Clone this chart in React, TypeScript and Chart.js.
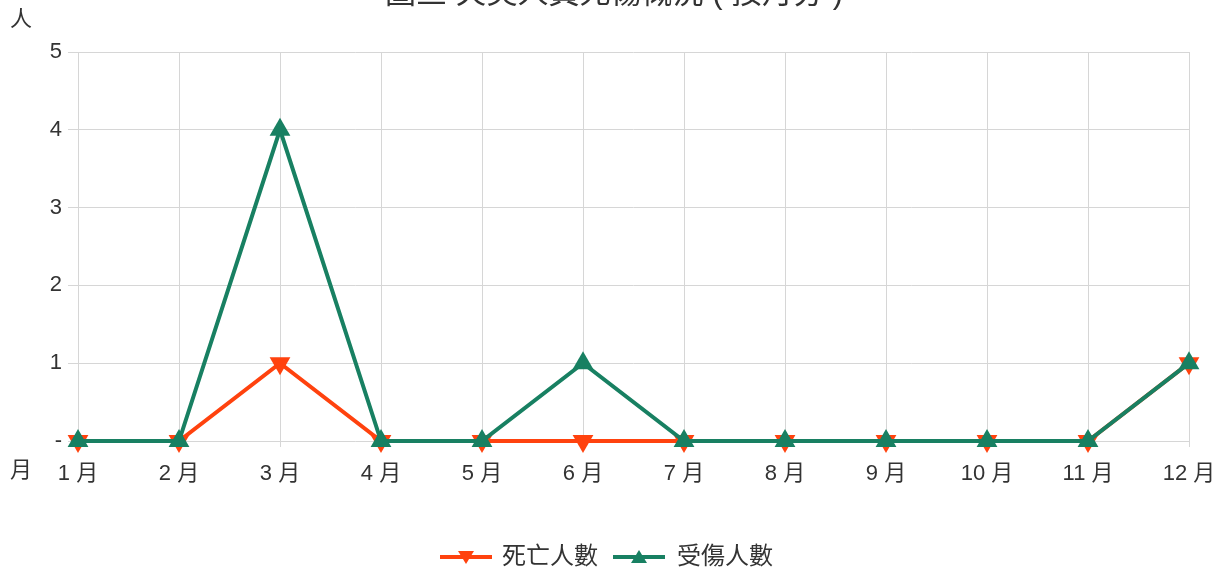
import React, { useEffect, useRef } from "react";
import { Chart, registerables } from "chart.js";

Chart.register(...registerables);

const TITLE = "圖三 火災人員死傷概況 ( 按月分 )";
const Y_TITLE = "人";
const X_TITLE = "月";
const MONTHS = ["1 月", "2 月", "3 月", "4 月", "5 月", "6 月", "7 月", "8 月", "9 月", "10 月", "11 月", "12 月"];
const DEATHS = [0, 0, 1, 0, 0, 0, 0, 0, 0, 0, 0, 1];
const INJURED = [0, 0, 4, 0, 0, 1, 0, 0, 0, 0, 0, 1];
const DEATH_LABEL = "死亡人數";
const INJURED_LABEL = "受傷人數";
const ORANGE = "#ff420e";
const GREEN = "#188062";
const FONT = "'Liberation Sans', 'Noto Sans CJK TC', sans-serif";

function drawLegendIcon(ctx: CanvasRenderingContext2D, x: number, y: number, color: string, down: boolean) {
  ctx.strokeStyle = color;
  ctx.lineWidth = 4;
  ctx.beginPath();
  ctx.moveTo(x, y);
  ctx.lineTo(x + 52, y);
  ctx.stroke();
  ctx.fillStyle = color;
  ctx.beginPath();
  if (down) {
    ctx.moveTo(x + 18, y - 6);
    ctx.lineTo(x + 34, y - 6);
    ctx.lineTo(x + 26, y + 7);
  } else {
    ctx.moveTo(x + 18, y + 6);
    ctx.lineTo(x + 34, y + 6);
    ctx.lineTo(x + 26, y - 7);
  }
  ctx.closePath();
  ctx.fill();
}

export default function App() {
  const ref = useRef<HTMLCanvasElement>(null);
  useEffect(() => {
    const textPlugin = {
      id: "texts",
      afterDraw(chart: any) {
        const ctx = chart.ctx as CanvasRenderingContext2D;
        ctx.save();
        ctx.fillStyle = "#333";
        ctx.textAlign = "center";
        ctx.textBaseline = "middle";
        ctx.font = `31px ${FONT}`;
        ctx.fillText(TITLE, 614, -6);
        ctx.font = `22px ${FONT}`;
        ctx.fillText(Y_TITLE, 21, 20);
        ctx.fillText(X_TITLE, 21, 471);
        // legend
        const ly = 557;
        drawLegendIcon(ctx, 440, ly, ORANGE, true);
        drawLegendIcon(ctx, 613, ly, GREEN, false);
        ctx.fillStyle = "#333";
        ctx.textAlign = "left";
        ctx.font = `24px ${FONT}`;
        ctx.fillText(DEATH_LABEL, 502, ly);
        ctx.fillText(INJURED_LABEL, 677, ly);
        ctx.restore();
      },
    };
    const common = {
      borderWidth: 4,
      pointStyle: "triangle",
      pointRadius: 12,
      pointBorderWidth: 0,
      tension: 0,
      clip: false,
    };
    const chart = new Chart(ref.current!, {
      type: "line",
      data: {
        labels: MONTHS,
        datasets: [
          {
            ...common,
            label: INJURED_LABEL,
            data: INJURED,
            borderColor: GREEN,
            backgroundColor: GREEN,
          },
          {
            ...common,
            label: DEATH_LABEL,
            data: DEATHS,
            borderColor: ORANGE,
            backgroundColor: ORANGE,
            pointRotation: 180,
          },
        ],
      },
      options: {
        animation: false,
        responsive: false,
        layout: { padding: { left: 0, right: 37, top: 52, bottom: 0 } },
        plugins: {
          tooltip: { enabled: false },
          legend: { display: false },
        },
        scales: {
          x: {
            offset: false,
            grid: { color: "#d6d6d6", lineWidth: 1, tickLength: 6, drawTicks: true },
            border: { display: false },
            ticks: {
              color: "#333",
              font: { size: 22, family: FONT },
              padding: 14,
              maxRotation: 0,
              autoSkip: false,
            },
            afterFit: (s: any) => {
              s.height = 135;
              s.paddingLeft = 0;
              s.paddingRight = 0;
            },
          },
          y: {
            min: 0,
            max: 5,
            grid: { color: "#d6d6d6", lineWidth: 1, tickLength: 10 },
            border: { display: false },
            ticks: {
              stepSize: 1,
              color: "#333",
              font: { size: 22, family: FONT },
              padding: 6,
              callback: (v: any) => (v === 0 ? "-" : String(v)),
            },
            afterFit: (s: any) => {
              s.width = 78;
            },
          },
        },
      } as any,
      plugins: [textPlugin],
    });
    return () => chart.destroy();
  }, []);
  return (
    <div style={{ position: "fixed", left: 0, top: 0, width: 1226, height: 576, background: "#fff" }}>
      <canvas ref={ref} width={1226} height={576} style={{ width: 1226, height: 576 }} />
    </div>
  );
}
